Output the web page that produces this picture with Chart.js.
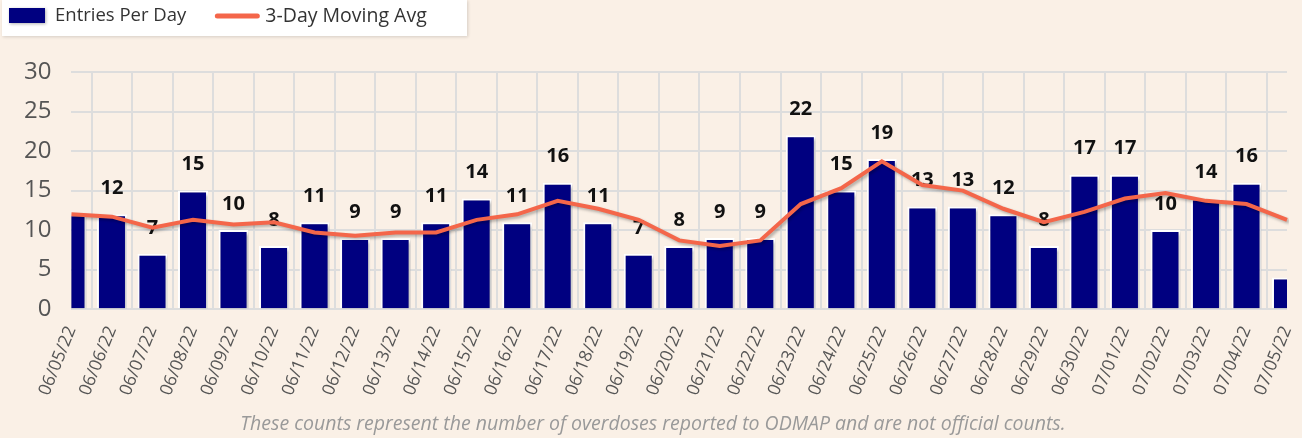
<!DOCTYPE html>
<html>
<head>
<meta charset="utf-8">
<script src="https://cdn.jsdelivr.net/npm/chart.js@4.4.1/dist/chart.umd.min.js"></script>
<style>
  html, body { margin: 0; padding: 0; background: #faf0e6; }
  #wrap { width: 1302px; height: 438px; position: relative; }
</style>
</head>
<body>
<div id="wrap"><canvas id="odChart"></canvas></div>
<script>
const DAYS = ['06/05/22','06/06/22','06/07/22','06/08/22','06/09/22','06/10/22','06/11/22','06/12/22',
  '06/13/22','06/14/22','06/15/22','06/16/22','06/17/22','06/18/22','06/19/22','06/20/22','06/21/22',
  '06/22/22','06/23/22','06/24/22','06/25/22','06/26/22','06/27/22','06/28/22','06/29/22','06/30/22',
  '07/01/22','07/02/22','07/03/22','07/04/22','07/05/22'];
const ENTRIES = [12,12,7,15,10,8,11,9,9,11,14,11,16,11,7,8,9,9,22,15,19,13,13,12,8,17,17,10,14,16,4];
const MOVING_AVG = [12,11.7,10.3,11.3,10.7,11,9.7,9.3,9.7,9.7,11.3,12,13.7,12.7,11.3,8.7,8,8.7,
  13.3,15.3,18.7,15.7,15,12.7,11,12.3,14,14.7,13.7,13.3,11.3];
const Y_TICKS = [0,5,10,15,20,25,30];
const FOOTNOTE = 'These counts represent the number of overdoses reported to ODMAP and are not official counts.';

const BAR_COLOR = '#000080';
const LINE_COLOR = '#f4664a';

const bgPlugin = {
  id: 'bg',
  beforeDraw(chart) {
    const ctx = chart.ctx;
    ctx.save();
    ctx.fillStyle = '#faf0e6';
    ctx.fillRect(0, 0, chart.width, chart.height);
    ctx.restore();
  }
};

// shadows under bars / line, value labels above bars
const markPlugin = {
  id: 'marks',
  beforeDatasetDraw(chart, args) {
    const ctx = chart.ctx;
    ctx.save();
    ctx.shadowColor = 'rgba(0,0,0,0.28)';
    ctx.shadowBlur = 3;
    ctx.shadowOffsetX = 2;
    ctx.shadowOffsetY = 2;
  },
  afterDatasetDraw(chart, args) {
    const ctx = chart.ctx;
    ctx.restore();
    if (args.index !== 0) return;
    const meta = chart.getDatasetMeta(0);
    ctx.save();
    ctx.font = 'bold 20px "Open Sans"';
    ctx.fillStyle = '#111';
    ctx.textAlign = 'center';
    ctx.textBaseline = 'middle';
    meta.data.forEach((bar, i) => {
      if (i === 0 || i === meta.data.length - 1) return;
      ctx.fillText(String(ENTRIES[i]), bar.x, bar.y - 26);
    });
    ctx.restore();
  }
};

const legendPlugin = {
  id: 'boxLegend',
  afterDraw(chart) {
    const ctx = chart.ctx;
    const ds = chart.data.datasets;
    ctx.save();
    ctx.shadowColor = 'rgba(0,0,0,0.15)';
    ctx.shadowBlur = 3;
    ctx.shadowOffsetX = 1;
    ctx.shadowOffsetY = 1;
    ctx.fillStyle = '#ffffff';
    ctx.fillRect(2, 0, 465, 36);
    ctx.shadowColor = 'rgba(0,0,0,0.3)';
    ctx.fillStyle = ds[0].backgroundColor;
    ctx.fillRect(9, 8, 36, 15);
    ctx.shadowColor = 'transparent';
    ctx.font = '18.5px "Open Sans"';
    ctx.fillStyle = '#333';
    ctx.textBaseline = 'middle';
    let x = 55;
    ctx.fillText(ds[0].label, x, 16);
    x += ctx.measureText(ds[0].label).width + 31;
    ctx.strokeStyle = ds[1].borderColor;
    ctx.lineWidth = 5;
    ctx.lineCap = 'round';
    ctx.beginPath();
    ctx.moveTo(x, 16);
    ctx.lineTo(x + 40, 16);
    ctx.stroke();
    ctx.font = '19.5px "Open Sans"';
    ctx.fillText(ds[1].label, x + 48, 16);
    ctx.restore();
  }
};

new Chart(document.getElementById('odChart'), {
  type: 'bar',
  data: {
    labels: DAYS,
    datasets: [
      {
        label: 'Entries Per Day',
        data: ENTRIES,
        backgroundColor: BAR_COLOR,
        borderColor: '#ffffff',
        borderWidth: 2,
        barPercentage: 0.78,
        categoryPercentage: 0.95,
        order: 2
      },
      {
        type: 'line',
        label: '3-Day Moving Avg',
        data: MOVING_AVG,
        borderColor: LINE_COLOR,
        backgroundColor: LINE_COLOR,
        borderWidth: 4,
        pointRadius: 0,
        tension: 0,
        order: 1
      }
    ]
  },
  options: {
    responsive: true,
    maintainAspectRatio: false,
    animation: false,
    layout: { padding: { top: 72, right: 0, left: 4, bottom: 0 } },
    plugins: {
      legend: { display: false },
      tooltip: { enabled: false },
      title: {
        display: true,
        text: FOOTNOTE,
        position: 'bottom',
        color: '#999',
        font: { family: 'Open Sans', size: 19.5, style: 'italic', weight: 'normal' },
        padding: { top: 0, bottom: 2 }
      }
    },
    scales: {
      x: {
        offset: false,
        grid: { color: '#dddddd', lineWidth: 2, drawTicks: false },
        border: { display: false },
        afterFit(axis) { axis.paddingRight = 15; },
        ticks: {
          autoSkip: false,
          minRotation: 68,
          maxRotation: 68,
          padding: 14,
          color: '#555',
          font: { family: 'Open Sans', size: 17.5 }
        }
      },
      y: {
        min: 0,
        max: 30,
        afterBuildTicks(axis) { axis.ticks = Y_TICKS.map(v => ({ value: v })); },
        grid: { color: '#dddddd', lineWidth: 2, drawTicks: false },
        border: { display: false },
        ticks: {
          padding: 20,
          color: '#555',
          font: { family: 'Open Sans', size: 24 }
        }
      }
    }
  },
  plugins: [bgPlugin, markPlugin, legendPlugin]
});
</script>
</body>
</html>
